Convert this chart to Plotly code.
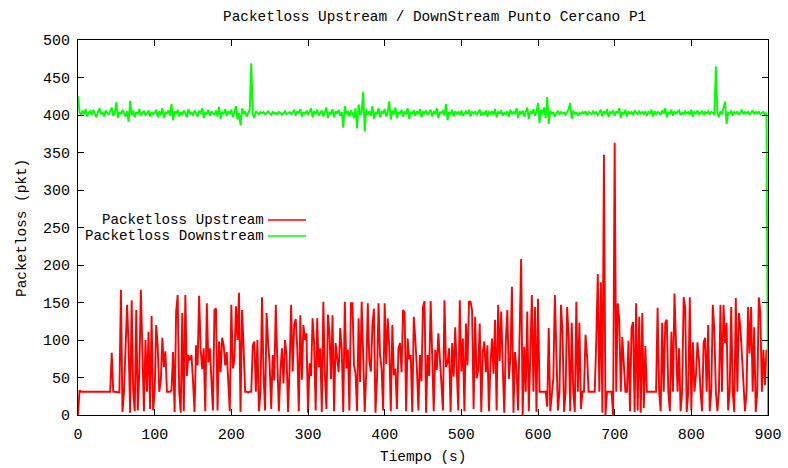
import plotly.graph_objects as go

# Sampling step of the capture, in seconds
STEP_S = 2

# Packetloss upstream (pkt), one sample every 2 s from t = 0 to t = 900
upstream = [
    0, 33, 31, 31, 30, 31, 31, 31, 30, 31,
    31, 31, 31, 30, 31, 31, 31, 31, 30, 31,
    31, 31, 83, 31, 31, 31, 31, 30, 167, 4,
    31, 88, 147, 93, 3, 153, 31, 5, 140, 6,
    58, 167, 83, 5, 100, 31, 111, 8, 132, 6,
    31, 120, 91, 31, 45, 103, 64, 85, 31, 31,
    31, 33, 84, 4, 138, 160, 31, 3, 136, 5,
    160, 52, 80, 73, 80, 45, 4, 93, 66, 159,
    87, 61, 89, 5, 149, 70, 89, 47, 6, 140,
    142, 6, 98, 57, 103, 93, 66, 84, 48, 5,
    147, 62, 73, 145, 100, 163, 4, 140, 90, 31,
    31, 30, 31, 31, 93, 98, 31, 100, 5, 31,
    157, 54, 6, 136, 96, 67, 8, 80, 46, 147,
    71, 5, 58, 89, 42, 100, 80, 4, 63, 147,
    58, 120, 128, 89, 5, 133, 47, 120, 100, 109,
    3, 69, 52, 129, 96, 6, 129, 64, 89, 4,
    151, 55, 8, 134, 109, 48, 133, 5, 96, 71,
    57, 116, 87, 4, 151, 62, 87, 6, 149, 149,
    66, 56, 5, 129, 44, 151, 76, 4, 58, 149,
    72, 58, 120, 142, 3, 49, 149, 80, 61, 6,
    149, 68, 129, 91, 5, 120, 53, 62, 8, 89,
    96, 57, 140, 137, 5, 102, 74, 80, 4, 131,
    100, 63, 6, 80, 45, 144, 152, 3, 80, 52,
    152, 80, 5, 87, 60, 109, 80, 42, 6, 153,
    64, 70, 89, 4, 96, 51, 117, 54, 6, 153,
    58, 102, 5, 122, 66, 151, 151, 140, 8, 131,
    49, 60, 122, 4, 84, 98, 57, 93, 5, 68,
    102, 55, 127, 6, 147, 72, 138, 66, 3, 98,
    140, 48, 76, 171, 3, 84, 61, 6, 120, 208,
    0, 91, 31, 138, 5, 98, 160, 31, 144, 4,
    155, 31, 31, 31, 31, 31, 11, 116, 5, 31,
    49, 160, 76, 6, 31, 147, 111, 4, 31, 144,
    104, 5, 123, 31, 4, 151, 31, 123, 8, 31,
    31, 107, 79, 31, 31, 31, 31, 31, 99, 188,
    31, 177, 3, 347, 0, 31, 31, 31, 31, 0,
    363, 31, 149, 127, 31, 104, 73, 31, 31, 99,
    5, 116, 124, 4, 149, 6, 131, 3, 136, 9,
    92, 31, 31, 31, 31, 31, 31, 31, 143, 31,
    5, 123, 31, 123, 127, 31, 5, 111, 31, 162,
    96, 31, 89, 5, 31, 157, 143, 4, 31, 157,
    6, 97, 31, 52, 97, 73, 31, 5, 96, 103,
    31, 120, 5, 31, 147, 113, 31, 5, 31, 147,
    31, 147, 96, 123, 6, 31, 144, 31, 4, 156,
    31, 136, 117, 80, 31, 5, 31, 144, 82, 144,
    31, 117, 4, 31, 157, 137, 31, 87, 40, 87,
    73,
]

# Packetloss downstream (pkt), same sampling
downstream = [
    425, 404, 399, 406, 401, 408, 398, 403, 405, 400,
    407, 402, 397, 404, 409, 401, 404, 398, 406, 403,
    400, 405, 410, 399, 403, 417, 396, 404, 401, 407,
    402, 398, 405, 391, 419, 400, 406, 397, 404, 401,
    408, 399, 403, 405, 400, 402, 406, 398, 404, 401,
    403, 407, 397, 405, 400, 409, 396, 404, 402, 406,
    399, 415, 393, 405, 401, 407, 398, 404, 400, 406,
    402, 397, 408, 401, 404, 399, 406, 402, 398, 405,
    403, 409, 396, 404, 401, 407, 399, 405, 402, 400,
    406, 398, 411, 395, 404, 402, 408, 399, 405, 401,
    407, 397, 404, 412, 394, 403, 386, 409, 401, 405,
    398, 404, 407, 469, 401, 396, 405, 403, 401, 404,
    402, 404, 401, 403, 405, 402, 400, 404, 402, 403,
    401, 404, 403, 400, 402, 405, 401, 403, 404, 401,
    403, 407, 399, 405, 402, 408, 398, 404, 401, 406,
    400, 404, 409, 397, 405, 401, 407, 399, 403, 406,
    398, 405, 410, 396, 404, 401, 408, 397, 405, 402,
    407, 399, 404, 383, 412, 401, 405, 398, 406, 402,
    396, 409, 382, 414, 400, 405, 431, 378, 408, 400,
    405, 399, 412, 395, 404, 401, 409, 397, 405, 402,
    408, 398, 404, 418, 394, 406, 401, 410, 396, 404,
    402, 407, 398, 405, 401, 409, 395, 404, 402, 406,
    399, 405, 401, 408, 397, 404, 402, 406, 400, 404,
    407, 398, 405, 401, 409, 396, 404, 402, 406, 399,
    415, 393, 404, 401, 407, 398, 405, 402, 404, 400,
    406, 399, 403, 405, 401, 407, 398, 404, 402, 405,
    400, 404, 407, 399, 403, 401, 406, 398, 404, 402,
    405, 400, 408, 397, 404, 402, 406, 399, 403, 401,
    405, 398, 407, 401, 404, 402, 409, 396, 405, 401,
    406, 398, 404, 410, 395, 405, 402, 408, 399, 404,
    416, 389, 407, 401, 410, 396, 424, 388, 406, 401,
    404, 398, 403, 405, 401, 404, 402, 403, 400, 404,
    408, 416, 395, 406, 401, 404, 399, 403, 401, 404,
    402, 405, 400, 404, 403, 401, 405, 402, 404, 400,
    403, 407, 398, 405, 401, 408, 397, 404, 402, 406,
    399, 405, 402, 409, 396, 404, 401, 407, 398, 405,
    402, 404, 400, 406, 403, 401, 405, 402, 404, 401,
    405, 399, 404, 402, 407, 398, 405, 401, 404, 403,
    400, 406, 402, 409, 397, 404, 401, 407, 399, 405,
    402, 404, 406, 400, 403, 401, 405, 402, 404, 400,
    407, 398, 404, 402, 406, 401, 403, 405, 400, 404,
    402, 405, 401, 404, 403, 400, 465, 402, 397, 405,
    401, 410, 418, 388, 404, 401, 406, 399, 404, 402,
    405, 400, 403, 407, 401, 404, 402, 405, 400, 403,
    406, 401, 404, 402, 405, 400, 403, 404, 401, 403,
    0,
]

x_ticks = [0, 100, 200, 300, 400, 500, 600, 700, 800, 900]
y_ticks = [0, 50, 100, 150, 200, 250, 300, 350, 400, 450, 500]

title_text = "Packetloss Upstream / DownStream Punto Cercano P1"
x_title = "Tiempo (s)"
y_title = "Packetloss (pkt)"
legend_names = ["Packetloss Upstream", "Packetloss Downstream"]
colors = ["#ff0000", "#00ff00"]

t_up = [i * STEP_S for i in range(len(upstream))]
t_down = [i * STEP_S for i in range(len(downstream))]

FONT = "Liberation Mono, DejaVu Sans Mono, monospace"
LINE_W = 1.9

fig = go.Figure()
fig.add_trace(go.Scatter(x=t_up, y=upstream, mode="lines",
                         line=dict(color=colors[0], width=LINE_W),
                         name=legend_names[0], showlegend=False))
fig.add_trace(go.Scatter(x=t_down, y=downstream, mode="lines",
                         line=dict(color=colors[1], width=LINE_W),
                         name=legend_names[1], showlegend=False))

axis_common = dict(
    showline=True, linecolor="black", linewidth=1, mirror="ticks",
    ticks="inside", ticklen=6, tickwidth=1, tickcolor="black",
    showgrid=False, zeroline=False, automargin=False,
    tickfont=dict(family=FONT, size=15, color="black"),
)

fig.update_xaxes(range=[0, 900], tickvals=x_ticks, ticklabelstandoff=5,
                 **axis_common)
fig.update_yaxes(range=[0, 500], tickvals=y_ticks, ticklabelstandoff=4,
                 **axis_common)

# plot area spans 690 x 375 px inside the 788 x 468 canvas
L, T, W, H = 78, 40, 690, 375


def px_x(px):
    return (px - L) / W


def px_y(py):
    return (T + H - py) / H


annotations = [
    dict(text=title_text, x=px_x(434), y=px_y(17), xref="paper", yref="paper",
         xanchor="center", yanchor="middle", showarrow=False,
         font=dict(family=FONT, size=14.4, color="black")),
    dict(text=x_title, x=px_x(423), y=px_y(457), xref="paper", yref="paper",
         xanchor="center", yanchor="middle", showarrow=False,
         font=dict(family=FONT, size=14.4, color="black")),
    dict(text=y_title, x=px_x(22), y=px_y(228), xref="paper", yref="paper",
         xanchor="center", yanchor="middle", showarrow=False, textangle=-90,
         font=dict(family=FONT, size=14.4, color="black")),
]

shapes = []
key_rows = [220, 236]
for name, color, row in zip(legend_names, colors, key_rows):
    annotations.append(dict(
        text=name, x=px_x(266), y=px_y(row), xref="paper", yref="paper",
        xanchor="right", yanchor="middle", showarrow=False,
        font=dict(family=FONT, size=14.2, color="black")))
    shapes.append(dict(
        type="line", xref="paper", yref="paper",
        x0=px_x(268), x1=px_x(306), y0=px_y(row), y1=px_y(row),
        line=dict(color=color, width=1.3)))

fig.update_layout(
    width=788, height=468,
    margin=dict(l=L, r=788 - L - W, t=T, b=468 - T - H, autoexpand=False),
    paper_bgcolor="white", plot_bgcolor="white",
    annotations=annotations, shapes=shapes,
    hovermode=False, showlegend=False,
)

fig.write_html("out.html")
